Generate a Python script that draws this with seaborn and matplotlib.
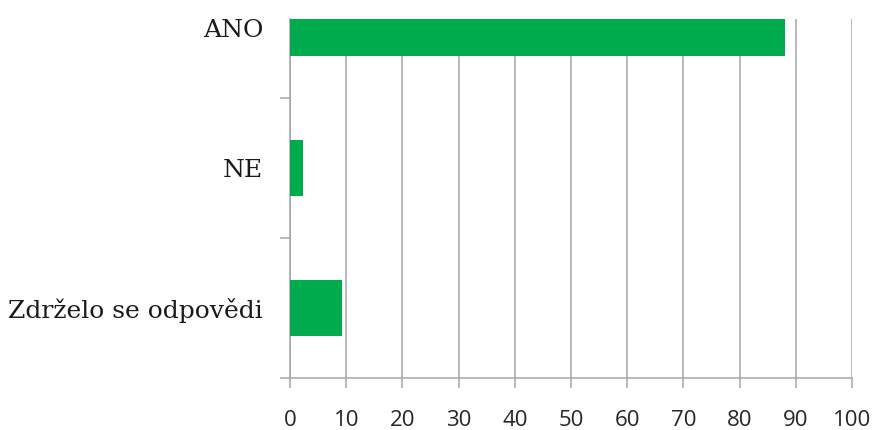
import matplotlib
matplotlib.use("Agg")
import matplotlib.pyplot as plt
import seaborn as sns
import pandas as pd
from matplotlib.ticker import FixedLocator

# Survey answers and their shares (%)
categories = ["ANO", "NE", "Zdrželo se odpovědi"]
values = [88.1, 2.4, 9.2]
x_ticks = list(range(0, 101, 10))

df = pd.DataFrame({"odpoved": categories, "podil": values})

sns.set_theme(style="white")
bar_color = "#00AB4E"
grid_color = "#A6A6A6"

fig = plt.figure(figsize=(8.73, 4.30), dpi=100)
ax = fig.add_axes([0.3322, 0.1216, 0.976 - 0.3322, 0.9558 - 0.1216])

sns.barplot(data=df, x="podil", y="odpoved", orient="h", color=bar_color,
            saturation=1, width=0.4, linewidth=0, ax=ax, zorder=3)

ax.set_xlim(0, 100)
ax.set_ylim(2.5, -0.062)
ax.set_xlabel("")
ax.set_ylabel("")

ax.xaxis.set_major_locator(FixedLocator(x_ticks))
ax.set_xticklabels([str(t) for t in x_ticks], family="Open Sans", fontsize=16,
                   color="#262626")
ax.tick_params(axis="x", which="major", length=7.5, width=1.1,
               color=grid_color, pad=16, bottom=True)

ax.yaxis.set_minor_locator(FixedLocator([0.5, 1.5, 2.5]))
ax.tick_params(axis="y", which="major", length=0, pad=19.4)
ax.tick_params(axis="y", which="minor", length=7.5, width=1.1,
               color=grid_color, left=True)
for lbl in ax.get_yticklabels():
    lbl.set_family("DejaVu Serif")
    lbl.set_fontsize(18)
    lbl.set_color("#1a1a1a")

ax.grid(axis="x", color=grid_color, linewidth=1.1, zorder=0)
ax.set_axisbelow(True)

for side in ["top", "right"]:
    ax.spines[side].set_visible(False)
for side in ["left", "bottom"]:
    ax.spines[side].set_color(grid_color)
    ax.spines[side].set_linewidth(1.1)

fig.savefig("out.png", dpi=100)
